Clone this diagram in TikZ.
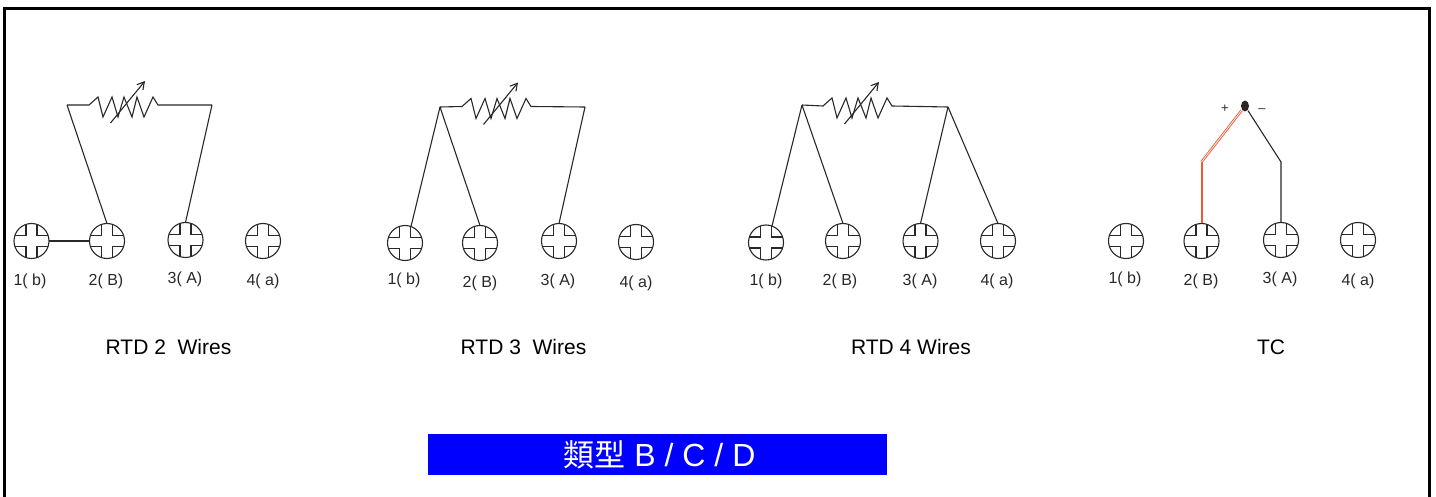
\documentclass[tikz,border=0pt]{standalone}
\usepackage{fontspec}
\setmainfont{Liberation Sans}
\newfontfamily\cjk{Noto Sans CJK TC}
\usetikzlibrary{shapes.geometric}
\usetikzlibrary{calc}
\usetikzlibrary{arrows.meta}
\definecolor{wire}{RGB}{40,40,40}
\definecolor{redwire}{RGB}{240,90,50}
\tikzset{every picture/.style={x=1pt,y=-1pt,line width=1.1pt}}

\begin{document}
\begin{tikzpicture}[scr/.style={circle,draw=wire,inner sep=0pt,outer sep=0pt,minimum size=35pt,path picture={
  \draw[wire,shift={(path picture bounding box.center)}] (-5.5,-20) -- (-5.5,-5.5) -- (-20,-5.5) (5.5,-20) -- (5.5,-5.5) -- (20,-5.5) (-5.5,20) -- (-5.5,5.5) -- (-20,5.5) (5.5,20) -- (5.5,5.5) -- (20,5.5);}},
  lbl/.style={inner sep=0pt,text=wire,font=\fontsize{16}{18}\selectfont},
  ttl/.style={inner sep=0pt,text height=15pt,text depth=0pt,font=\fontsize{21}{24}\selectfont}]
\useasboundingbox (0,0) rectangle (1436,497);
\draw[line width=3pt] (4.5,497) -- (4.5,8.5) -- (1429.5,8.5) -- (1429.5,497);
% terminals
\foreach \g/\n/\x/\y/\lx/\ly/\t in {1/1/31.5/241/30/281/1( b),1/2/107/241/106/281/2( B),1/3/185.5/240/185/279.5/3( A),1/4/263/241/263/281/4( a),
 2/1/405/243/404/280/1( b),2/2/480/243/480/283/2( B),2/3/559/241/558/281/3( A),2/4/636/242/636/283/4( a),
 3/1/766/242.5/766/281/1( b),3/2/843/241/840/281/2( B),3/3/920.5/241/920/281/3( A),3/4/998/241/997/281/4( a),
 4/1/1126/241/1125/279/1( b),4/2/1201.5/241/1201/281/2( B),4/3/1281/240/1280/279/3( A),4/4/1358/240/1358/281/4( a)} {
\node (S\g\n) at (\x,\y) [scr] {};
\node (T\g\n) at (\lx,\ly) [lbl] {\t};
}
% resistors
\coordinate (L1) at (67,105);
\coordinate (R1) at (212,105);
\coordinate (L2) at (440,107);
\coordinate (R2) at (585,107);
\coordinate (L3) at (802,105);
\coordinate (R3) at (948,107);
\coordinate (Z1) at (0,105);
\coordinate (Z2) at (373,106.5);
\coordinate (Z3) at (734,106);
\foreach \i in {1,2,3} {
\draw[wire,shift={(Z\i)}] (L\i) -- (89,0) -- (98,-8) -- (103,12) -- (112,-8) -- (118,12) -- (124,-8) -- (132,12) -- (137,-8) -- (144,12) -- (153,-8) -- (158,0) -- (R\i);
\coordinate (A\i) at ($(Z\i)+(110.5,18)$);
\coordinate (B\i) at ($(Z\i)+(145,-24)$);
\draw[wire,-{Straight Barb[length=7pt,width=8pt]}] (A\i) -- (B\i);
}
% wires
\draw[wire] (S11) -- (S12);
\draw[wire] (L1) -- (S12.north);
\draw[wire] (R1) -- (S13.north);
\draw[wire] (L2) -- (S21.70);
\draw[wire] (L2) -- (S22.north);
\draw[wire] (R2) -- (S23.north);
\draw[wire] (L3) -- (S31.70);
\draw[wire] (L3) -- (S32.north);
\draw[wire] (R3) -- (S33.north);
\draw[wire] (R3) -- (S34.north);
% thermocouple
\node (tip) at (1245,106) [ellipse,fill=wire,inner sep=0pt,minimum width=8pt,minimum height=11pt] {};
\node (plus) at (1225,109) [lbl,font=\fontsize{13}{14}\selectfont] {+};
\node (minus) at (1262,110.5) [lbl,font=\fontsize{13}{14}\selectfont] {--};
\coordinate (P) at (1201.5,162);
\coordinate (N) at (1281,162);
\draw[draw=redwire,line width=2pt] (S42.north) -- (P);
\draw[draw=redwire,line width=0.9pt,double=white,double distance=0.7pt] (P) -- (tip);
\draw[wire] (S43.north) -- (N) -- (tip);
% captions
\node (c1) at (168.5,346.5) [ttl] {RTD 2\ \ Wires};
\node (c2) at (523.5,346.5) [ttl] {RTD 3\ \ Wires};
\node (c3) at (911,346.5) [ttl] {RTD 4 Wires};
\node (c4) at (1271,346.5) [ttl] {TC};
\node (type) at (657.5,454.5) [fill=blue,text=white,minimum width=459pt,minimum height=41pt,inner sep=0pt,font=\fontsize{32}{34}\selectfont] {\hspace{4pt}{\fontsize{31}{34}\selectfont\cjk 類型} B / C / D};
\end{tikzpicture}
\end{document}
